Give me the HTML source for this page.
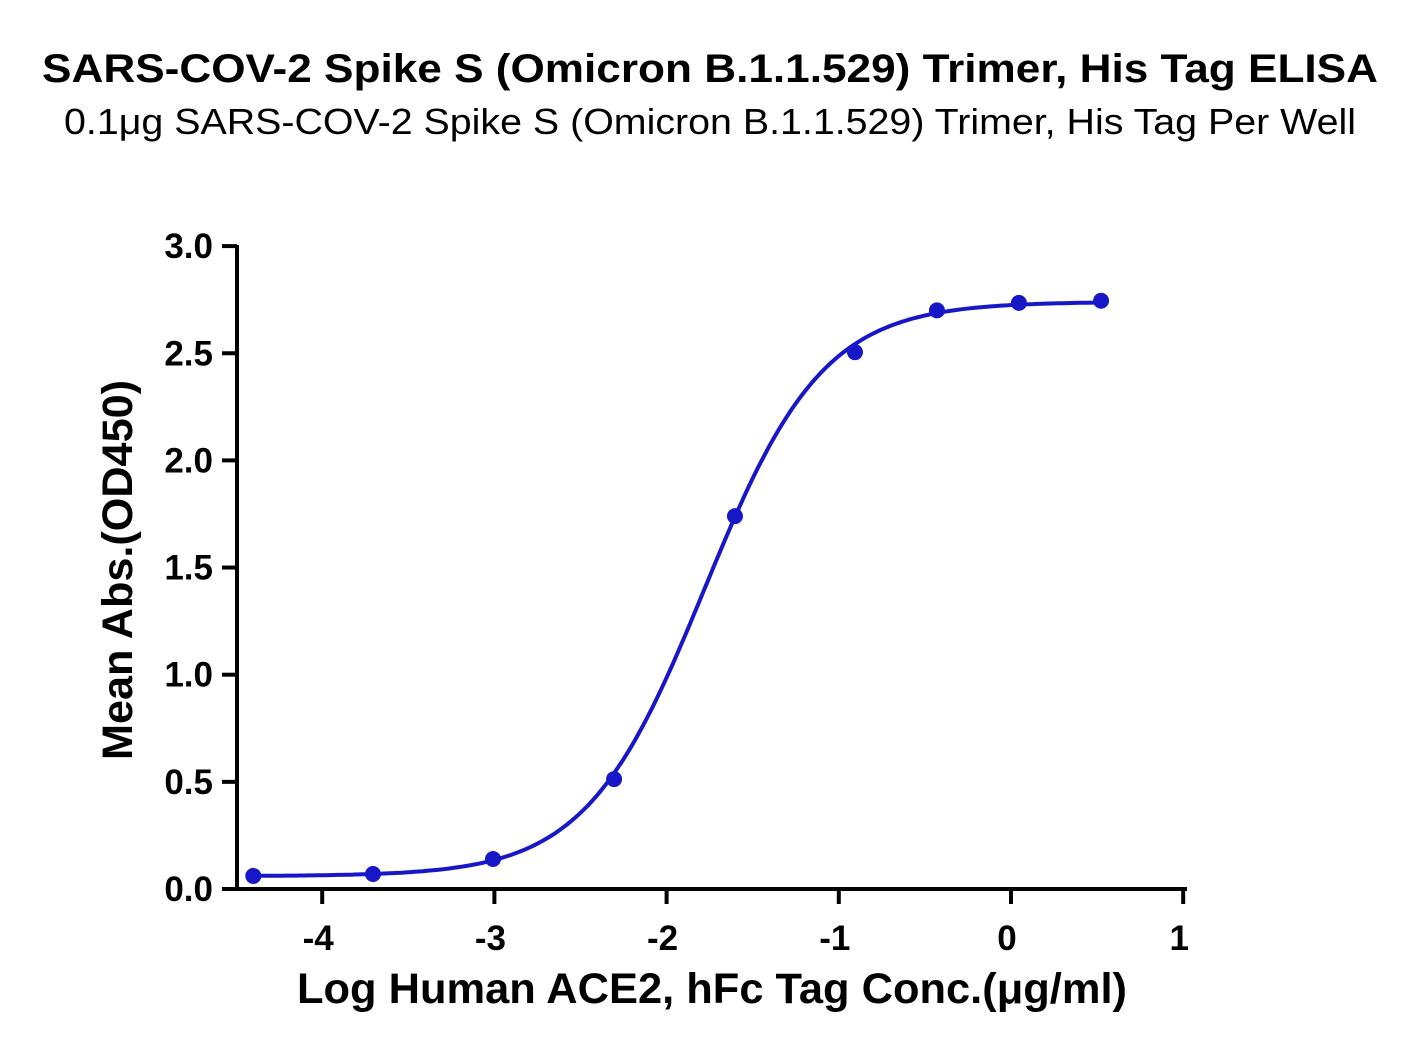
<!DOCTYPE html>
<html><head><meta charset="utf-8"><style>
body{margin:0;background:#fff;}
svg text{font-family:"Liberation Sans",Arial,sans-serif;fill:#000;}
</style></head><body>
<svg width="1422" height="1059" xmlns="http://www.w3.org/2000/svg">
<text x="42" y="82" font-size="40" font-weight="bold" textLength="1336" lengthAdjust="spacingAndGlyphs">SARS-COV-2 Spike S (Omicron B.1.1.529) Trimer, His Tag ELISA</text>
<text x="64" y="134" font-size="36" textLength="1292" lengthAdjust="spacingAndGlyphs">0.1μg SARS-COV-2 Spike S (Omicron B.1.1.529) Trimer, His Tag Per Well</text>
<g id="axes"></g>
<g id="plot"></g>
<text x="297" y="1003" font-size="43" font-weight="bold" textLength="830" lengthAdjust="spacingAndGlyphs">Log Human ACE2, hFc Tag Conc.(μg/ml)</text>
<text transform="translate(132,760) rotate(-90)" font-size="43" font-weight="bold" textLength="380" lengthAdjust="spacingAndGlyphs">Mean Abs.(OD450)</text>
</svg>
<script>
const xs=[-4.40,-3.705,-3.008,-2.305,-1.603,-0.906,-0.430,0.046,0.523];
const ys=[0.061,0.070,0.140,0.513,1.74,2.505,2.70,2.735,2.745];
const xTicks=[-4,-3,-2,-1,0,1];
const yTicks=[0.0,0.5,1.0,1.5,2.0,2.5,3.0];
const fitParams=[0.06,2.74,-1.78,2.9];
const NS="http://www.w3.org/2000/svg";
const X=v=>1011+v*172.2, Y=v=>889-v*214.3;
function mk(t,a,p){const e=document.createElementNS(NS,t);for(const k in a)e.setAttribute(k,a[k]);p.appendChild(e);return e;}
const ax=document.getElementById('axes'),pl=document.getElementById('plot');
const ya=mk('line',{x1:237,y1:245,x2:237,y2:891,stroke:'#000','stroke-width':4},ax);


const xa=mk('line',{x1:235,y1:889,x2:1187,y2:889,stroke:'#000','stroke-width':4},ax);


yTicks.forEach(v=>{
 const l=mk('line',{x1:222,y1:Y(v),x2:237,y2:Y(v),stroke:'#000','stroke-width':4},ax);
 
 
 const t=mk('text',{x:213,y:Y(v)+12,'text-anchor':'end','font-size':35,'font-weight':'bold'},ax);
 t.textContent=v.toFixed(1);
 
 
});
xTicks.forEach(v=>{
 const l=mk('line',{x1:X(v),y1:889,x2:X(v),y2:904,stroke:'#000','stroke-width':4},ax);
 
 
 const t=mk('text',{x:X(v)-4,y:950,'text-anchor':'middle','font-size':35,'font-weight':'bold'},ax);
 t.textContent=v<0?'-'+Math.abs(v):String(v);
 
 
});
const [b,tp,c,k]=fitParams;
let d='';const x0=xs[0],x1=xs[xs.length-1];
for(let i=0;i<=200;i++){const x=x0+(x1-x0)*i/200;const y=b+(tp-b)/(1+Math.exp(-k*(x-c)));d+=(i?'L':'M')+X(x).toFixed(1)+','+Y(y).toFixed(1);}
const cv=mk('path',{d:d,fill:'none',stroke:'#1717c8','stroke-width':4},pl);


xs.forEach((x,i)=>{
 const p=mk('circle',{cx:X(x),cy:Y(ys[i]),r:8,fill:'#1717c8'},pl);
 
 
});
</script>
</body></html>
